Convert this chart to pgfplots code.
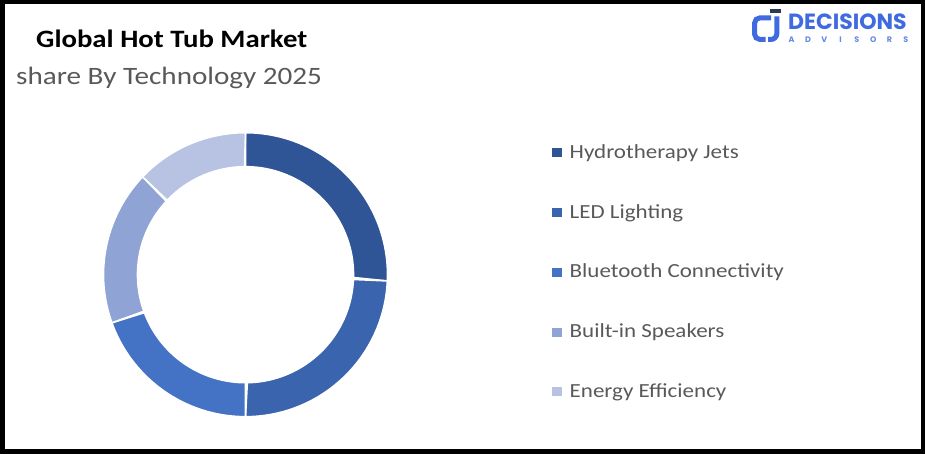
\documentclass[border=0pt]{standalone}
\usepackage{pgfplots}
\pgfplotsset{compat=1.18}
\usepackage{fontspec}
\setmainfont{Carlito}
\newfontfamily\logofont{Poppins}
\definecolor{cA}{HTML}{2F5597}
\definecolor{cB}{HTML}{3A64AD}
\definecolor{cC}{HTML}{4472C4}
\definecolor{cD}{HTML}{8FA3D5}
\definecolor{cE}{HTML}{B8C3E3}
\definecolor{txt}{HTML}{595959}
\definecolor{logoblue}{HTML}{3F6AE0}
\definecolor{logodark}{HTML}{2B3A55}
\newcommand{\hs}[1]{\scalebox{1.15}[1]{#1}}
\newcommand{\lb}[1]{\makebox[16.3pt]{#1}}
% annular sector from cumulative share #1 to #2 (percent), clockwise from top
\newcommand{\seg}[3]{%
  \addplot[fill=#3, draw=white, line width=1.6pt, domain=0:2, samples=181, variable=\t]
  ({245.5 + (\t<=1 ? 142 : 108)*sin(3.6*(#1 + (#2-#1)*(\t<=1 ? \t : 2-\t)))},
   {274.7 - (\t<=1 ? 142 : 108)*cos(3.6*(#1 + (#2-#1)*(\t<=1 ? \t : 2-\t)))}) -- cycle;
}
\begin{document}
\begin{tikzpicture}
\begin{axis}[at={(0,0)}, anchor=south west, scale only axis, width=925pt, height=454pt,
  xmin=0, xmax=925, ymin=0, ymax=454, y dir=reverse, hide axis, clip=false]
% shares: Hydrotherapy Jets 25.7, LED Lighting 24.3, Bluetooth Connectivity 19.5,
% Built-in Speakers 17.6, Energy Efficiency 12.9
\seg{0}{25.7}{cA}
\seg{25.7}{50.0}{cB}
\seg{50.0}{69.5}{cC}
\seg{69.5}{87.1}{cD}
\seg{87.1}{100}{cE}
\end{axis}
\begin{scope}[x=1pt, y=-1pt, yshift=454pt]
\draw[line width=4.5pt, black] (2.25,2.25) rectangle (922.75,451.75);
\node[anchor=base west, inner sep=0, font=\fontsize{25}{30}\selectfont\bfseries] at (36,47.5) {\hs{Global Hot Tub Market}};
\node[anchor=base west, inner sep=0, text=txt, font=\fontsize{25}{30}\selectfont] at (16,84.3) {\scalebox{1.165}[1]{share By Technology 2025}};
\foreach \c/\l [count=\i from 0] in {cA/Hydrotherapy Jets, cB/LED Lighting, cC/Bluetooth Connectivity, cD/Built-in Speakers, cE/Energy Efficiency}{
  \fill[\c] (552.3,{148.3+59.75*\i}) rectangle ++(9.4,9.2);
  \node[anchor=base west, inner sep=0, text=txt, font=\fontsize{20}{24}\selectfont] at (569.5,{158.3+59.75*\i}) {\hs{\l}};
}
% logo
\fill[logodark] (770,9.5) rectangle (781,13);
\draw[logoblue, line width=5pt, rounded corners=5.5pt] (771,17.8) -- (754.5,17.8) -- (754.5,39.5) -- (765.5,39.5);
\draw[logoblue, line width=5pt, rounded corners=6pt] (776.8,16.5) -- (776.8,39.5) -- (768,39.5);
\node[anchor=base west, inner sep=0, text=logoblue, font=\logofont\bfseries\fontsize{22}{24}\selectfont] at (788,29.5) {DECISIONS};
\node[anchor=base west, inner sep=0, text=logoblue!80!white, font=\logofont\bfseries\fontsize{8}{9}\selectfont] at (783.3,42.5) {\lb{A}\lb{D}\lb{V}\lb{I}\lb{S}\lb{O}\lb{R}\lb{S}};
\end{scope}
\end{tikzpicture}
\end{document}
